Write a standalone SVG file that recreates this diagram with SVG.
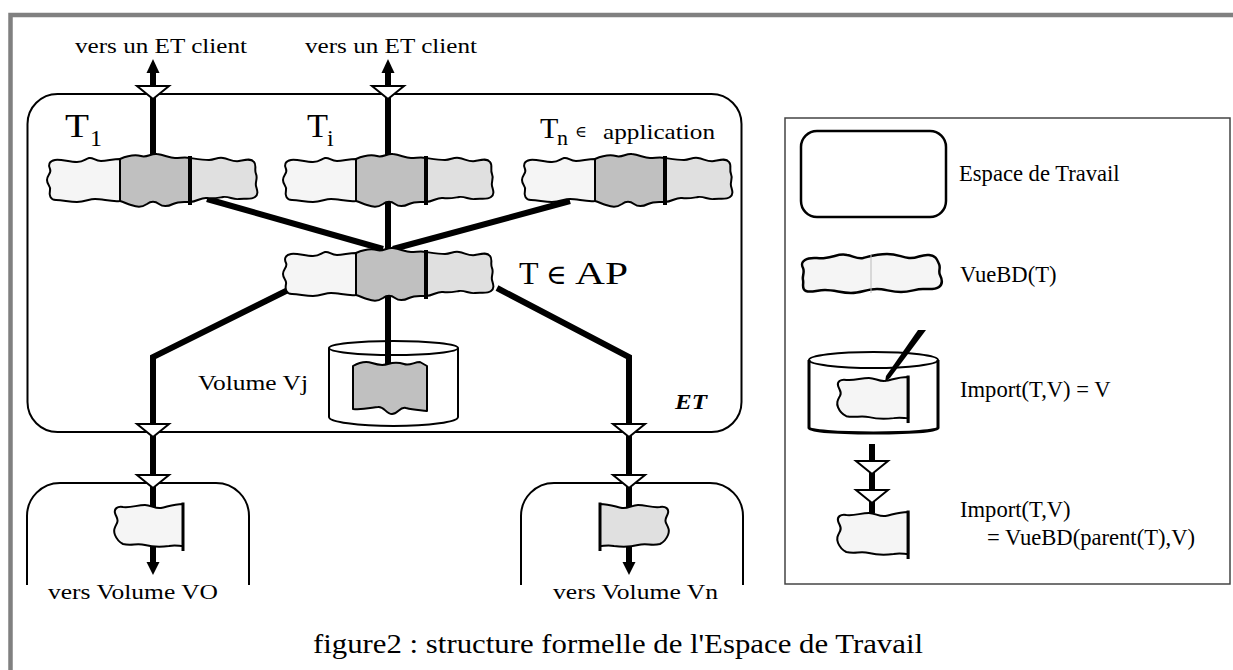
<svg xmlns="http://www.w3.org/2000/svg" width="1233" height="670" viewBox="0 0 1233 670">
<style>
.t{font-family:"Liberation Serif","Times New Roman","DejaVu Serif",serif;fill:#000}
.lab{font-size:21.7px}
.leg{font-size:22.6px}
.big{font-size:33px}
.sub{font-size:24px}
.ln{fill:none;stroke:#000;stroke-width:6;stroke-linejoin:miter;stroke-linecap:butt}
.hol{fill:#fff;stroke:#000;stroke-width:2;stroke-linejoin:miter}
.ah{fill:#000}
.frm{fill:none;stroke:#000;stroke-width:2}
.o{stroke:#000;stroke-width:2;stroke-linejoin:round}
.c1{fill:#f5f5f5}
.c2{fill:#c0c0c0}
.c3{fill:#e0e0e0}
</style>
<defs>
  <!-- three-part database view: light / dark / medium -->
  <g id="vue">
    <path class="o c1" d="M73,-21 C66,-21 60,-19 54,-19 C48,-19 46,-23 42,-22 C38,-21 37,-18 30,-18 C22,-18 14,-21 8,-20 C2,-19 1,-15 3,-11 C5,-7 0,-5 0,0 C0,5 4,6 3,10 C2,15 3,20 9,20 C16,20 22,22 30,22 C38,22 42,19 48,19 C56,19 64,22 73,21 Z"/>
    <path class="o c2" d="M73,-21 C80,-24 86,-26 94,-24 C100,-22 104,-27 110,-26 C118,-25 122,-22 128,-22 C134,-22 138,-23 143,-22 L143,22 C136,22 132,21 126,24 C120,27 116,27 112,24 C108,21 104,21 100,24 C94,28 90,27 84,25 C80,24 77,22 73,21 Z"/>
    <path class="o c3" d="M143,-22 C150,-21 156,-20 162,-20 C168,-20 170,-23 176,-22 C182,-21 186,-18 192,-19 C198,-20 204,-22 207,-18 C210,-15 207,-10 209,-6 C211,-2 208,2 209,6 C210,10 212,14 208,17 C204,20 198,18 192,19 C186,20 182,16 176,17 C170,18 166,19 160,18 C154,17 150,22 143,22 Z"/>
    <line x1="73" y1="-21" x2="73" y2="22" stroke="#000" stroke-width="2"/>
    <line x1="143" y1="-24" x2="143" y2="25" stroke="#000" stroke-width="4"/>
  </g>
  <!-- single view page with one straight edge -->
  <g id="flag">
    <path stroke="#000" stroke-width="2" stroke-linejoin="round" d="M70,1 C60,1 54,4 48,5 C42,6 38,2 32,2 C24,2 18,5 10,4 C4,3 1,6 2,10 C3,14 6,16 4,20 C2,24 0,27 2,32 C4,37 6,39 10,41 C18,43 24,40 32,42 C40,44 48,44 56,43 C62,42 66,43 70,43 Z"/>
    <line x1="70" y1="-0.5" x2="70" y2="48" stroke="#000" stroke-width="3"/>
  </g>
  <polygon id="tri" points="-16,-8 16,-8 0,5"/>
</defs>

<rect width="1233" height="670" fill="#fff"/>
<path d="M10.5,670 V15 H1233" fill="none" stroke="#808080" stroke-width="4.5"/>

<!-- workspace frames -->
<g id="et">
  <rect class="frm" x="27.5" y="94" width="714" height="338" rx="30"/>
  <text class="t" x="675" y="409" font-size="22" font-weight="bold" font-style="italic" textLength="32" lengthAdjust="spacingAndGlyphs">ET</text>
</g>
<g id="et-v0">
  <path class="frm" d="M27,585 V516 A33,33 0 0 1 60,483 H216 A33,33 0 0 1 249,516 V585"/>
  <text class="t lab" x="48" y="599" textLength="170" lengthAdjust="spacingAndGlyphs">vers Volume VO</text>
</g>
<g id="et-vn">
  <path class="frm" d="M521,585 V516 A33,33 0 0 1 554,483 H710 A33,33 0 0 1 743,516 V585"/>
  <text class="t lab" x="553" y="599" textLength="165" lengthAdjust="spacingAndGlyphs">vers Volume Vn</text>
</g>

<!-- connectors -->
<g id="connectors">
  <path class="ln" d="M153,72 V158"/>
  <path class="ln" d="M388,72 V158"/>
  <path class="ln" d="M388,200 V254"/>
  <path class="ln" d="M207,199 L383,249"/>
  <path class="ln" d="M570,201 L393,249"/>
  <path class="ln" d="M388,296 V366"/>
  <path class="ln" d="M290,289 L153,357 V563"/>
  <path class="ln" d="M497,288 L629,357 V563"/>
  <polygon class="ah" points="153,59 146.5,73 159.5,73"/>
  <polygon class="ah" points="388,59 381.5,73 394.5,73"/>
  <polygon class="ah" points="153,575 146.5,562 159.5,562"/>
  <polygon class="ah" points="629,575 622.5,562 635.5,562"/>
  <use href="#tri" class="hol" x="153" y="94"/>
  <use href="#tri" class="hol" x="388" y="94"/>
  <use href="#tri" class="hol" x="153" y="432"/>
  <use href="#tri" class="hol" x="629" y="432"/>
  <use href="#tri" class="hol" x="153" y="483"/>
  <use href="#tri" class="hol" x="629" y="483"/>
</g>

<text class="t lab" x="75" y="53" textLength="172" lengthAdjust="spacingAndGlyphs">vers un ET client</text>
<text class="t lab" x="305" y="53" textLength="172" lengthAdjust="spacingAndGlyphs">vers un ET client</text>

<!-- task views -->
<g id="t1">
  <use href="#vue" transform="translate(47,180)"/>
  <text class="t big" x="65" y="137" textLength="24" lengthAdjust="spacingAndGlyphs">T</text>
  <text class="t sub" x="90" y="146">1</text>
</g>
<g id="ti">
  <use href="#vue" transform="translate(283,180)"/>
  <text class="t big" x="307" y="137" textLength="21" lengthAdjust="spacingAndGlyphs">T</text>
  <text class="t sub" x="327" y="146">i</text>
</g>
<g id="tn">
  <use href="#vue" transform="translate(522,180)"/>
  <text class="t" x="540" y="138" font-size="30">T</text>
  <text class="t" x="557" y="145" font-size="22">n</text>
  <text class="t" x="575" y="137" font-size="16">∈</text>
  <text class="t" x="603" y="139" font-size="22" textLength="112" lengthAdjust="spacingAndGlyphs">application</text>
</g>
<g id="t-ap">
  <use href="#vue" transform="translate(283,274)"/>
  <text class="t" x="519" y="284" font-size="32">T</text>
  <text class="t" x="546" y="284" font-size="28">∈</text>
  <text class="t" x="575" y="284" font-size="32" textLength="53" lengthAdjust="spacingAndGlyphs">AP</text>
</g>

<!-- volume Vj -->
<g id="volume-vj">
  <path class="frm" d="M329,348 V417 A64.5,9 0 0 0 458,417 V348"/>
  <ellipse class="frm" cx="393.5" cy="348" rx="64.5" ry="7"/>
  <path class="o c2" d="M353,366 C360,362 366,361 372,363 C378,365 382,366 388,364 C394,362 398,362 404,364 C410,366 414,362 420,362 L427,366 L427,411 C420,410 414,410 406,408 C400,406 398,414 392,414 C386,414 384,406 378,407 C370,408 362,410 353,409 Z"/>
  <text class="t lab" x="198" y="390" textLength="110" lengthAdjust="spacingAndGlyphs">Volume Vj</text>
</g>

<g id="view-v0"><use href="#flag" fill="#f5f5f5" transform="translate(113,503)"/></g>
<g id="view-vn"><use href="#flag" fill="#e0e0e0" transform="translate(670,503) scale(-1,1)"/></g>

<!-- legend -->
<g id="legend">
  <rect x="785" y="118" width="445" height="466" fill="#fff" stroke="#444" stroke-width="1.5"/>
  <g id="leg-et">
    <rect x="801" y="131" width="145" height="86" rx="16" fill="none" stroke="#000" stroke-width="2.5"/>
    <text class="t leg" x="959" y="181">Espace de Travail</text>
  </g>
  <g id="leg-vue">
    <path fill="#f5f5f5" stroke="#000" stroke-width="2.5" stroke-linejoin="round" transform="translate(801,274)" d="M4,-14 C10,-18 16,-15 24,-16 C34,-17 38,-21 46,-19 C52,-18 56,-15 62,-16 C70,-18 76,-20 86,-20 C96,-20 100,-17 108,-16 C116,-15 120,-20 128,-19 C136,-18 136,-14 138,-10 C140,-6 137,-3 139,1 C141,5 142,10 138,13 C134,16 128,15 122,15 C114,15 110,18 100,18 C90,18 84,15 76,15 C66,15 60,19 50,19 C40,19 34,16 24,16 C16,16 10,19 5,17 C0,15 3,10 2,6 C1,2 4,-2 2,-6 C0,-10 1,-12 4,-14 Z"/>
    <line x1="871" y1="255" x2="871" y2="293" stroke="#bbb" stroke-width="1"/>
    <text class="t leg" x="960" y="282">VueBD(T)</text>
  </g>
  <g id="leg-import">
    <path d="M809,360 V428 A64.5,5 0 0 0 938,428 V360" fill="none" stroke="#000" stroke-width="3"/>
    <ellipse cx="873.5" cy="360" rx="64.5" ry="8" fill="none" stroke="#000" stroke-width="2"/>
    <use href="#flag" fill="#f5f5f5" transform="translate(836,376) scale(1.03,0.98)"/>
    <polygon points="918,330 926,330 890,378 885,382 886,376" fill="#000"/>
    <text class="t leg" x="960" y="397">Import(T,V) = V</text>
  </g>
  <g id="leg-parent">
    <path class="ln" d="M872,444 V513"/>
    <use href="#tri" class="hol" x="872" y="469"/>
    <use href="#tri" class="hol" x="872" y="498"/>
    <use href="#flag" fill="#f5f5f5" transform="translate(836,511) scale(1.03,1)"/>
    <text class="t leg" x="960" y="517">Import(T,V)</text>
    <text class="t leg" x="987" y="545">= VueBD(parent(T),V)</text>
  </g>
</g>

<text class="t" x="313" y="653" font-size="27" textLength="610" lengthAdjust="spacingAndGlyphs">figure2 : structure formelle de l'Espace de Travail</text>
</svg>
